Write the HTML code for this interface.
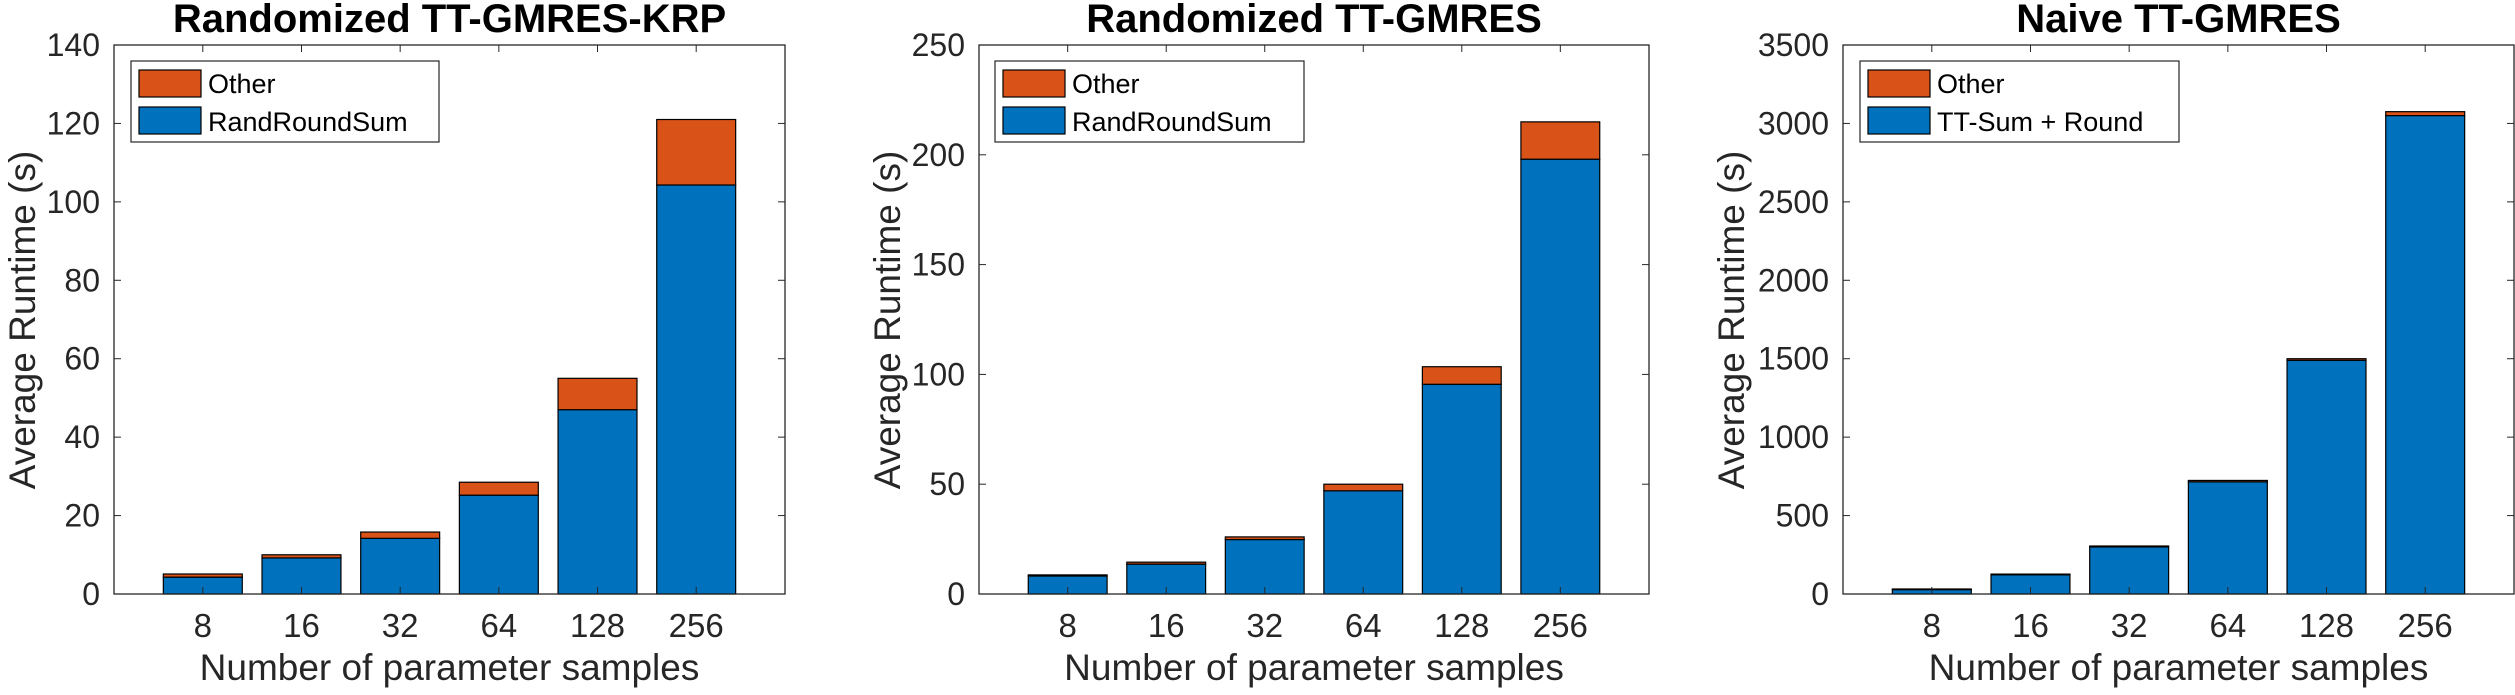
<!DOCTYPE html>
<html><head><meta charset="utf-8"><style>
body{margin:0;background:#fff;}
svg text{font-family:"Liberation Sans",Arial,sans-serif;fill:#262626;}
</style></head><body>
<svg id="c" width="2515" height="690" xmlns="http://www.w3.org/2000/svg"></svg>
<script>
const categories = ["8","16","32","64","128","256"];
const p1Blue = [4.3, 9.2, 14.2, 25.2, 47.0, 104.3];
const p1Total = [5.1, 10.0, 15.8, 28.5, 55.0, 121.0];
const p1Ticks = [0,20,40,60,80,100,120,140];
const p2Blue = [8.2, 13.6, 24.8, 47.0, 95.5, 198.0];
const p2Total = [8.7, 14.5, 26.0, 50.0, 103.5, 215.0];
const p2Ticks = [0,50,100,150,200,250];
const p3Blue = [28, 122, 300, 715, 1490, 3050];
const p3Total = [32, 127, 306, 724, 1500, 3075];
const p3Ticks = [0,500,1000,1500,2000,2500,3000,3500];

const svgEl = document.getElementById('c');
const NS = "http://www.w3.org/2000/svg";
function mk(tag, attrs, parent){const e=document.createElementNS(NS,tag);for(const k in attrs)e.setAttribute(k,attrs[k]);(parent||svgEl).appendChild(e);return e;}

const panels = [
 {title:"Randomized TT-GMRES-KRP", left:114, right:785, blue:p1Blue, total:p1Total, ticks:p1Ticks, ymax:140, ylabX:22, leg:[131,61,308,81], legLab:"RandRoundSum"},
 {title:"Randomized TT-GMRES", left:979, right:1649, blue:p2Blue, total:p2Total, ticks:p2Ticks, ymax:250, ylabX:887, leg:[995,61,309,81], legLab:"RandRoundSum"},
 {title:"Naive TT-GMRES", left:1843, right:2514, blue:p3Blue, total:p3Total, ticks:p3Ticks, ymax:3500, ylabX:1731, leg:[1860,61,319,81], legLab:"TT-Sum + Round"}
];
const plotTop=45, plotBottom=594;
panels.forEach((p,pi)=>{
  const g = mk('g',{});
  
  
  const xs = i => p.left + (i+1-0.1)/6.8*(p.right-p.left);
  const ys = v => plotBottom - v/p.ymax*(plotBottom-plotTop);
  const bw = 0.8/6.8*(p.right-p.left);
  categories.forEach((c,i)=>{
    const b = mk('rect',{x:xs(i)-bw/2,y:ys(p.blue[i]),width:bw,height:ys(0)-ys(p.blue[i]),fill:'#0072bd',stroke:'#000','stroke-width':1.2},g);
    
    
    const o = mk('rect',{x:xs(i)-bw/2,y:ys(p.total[i]),width:bw,height:ys(p.blue[i])-ys(p.total[i]),fill:'#d95319',stroke:'#000','stroke-width':1.2},g);
    
    
    const t = mk('text',{x:xs(i),y:637,'font-size':33,'text-anchor':'middle'},g);
    t.textContent=c;
    
    
    mk('line',{x1:xs(i),x2:xs(i),y1:plotBottom,y2:plotBottom-7,stroke:'#262626','stroke-width':1},g);
    mk('line',{x1:xs(i),x2:xs(i),y1:plotTop,y2:plotTop+7,stroke:'#262626','stroke-width':1},g);
  });
  p.ticks.forEach(v=>{
    const t = mk('text',{x:p.left-14,y:ys(v)+11,'font-size':32,'text-anchor':'end'},g);
    t.textContent=v;
    
    
    mk('line',{x1:p.left,x2:p.left+7,y1:ys(v),y2:ys(v),stroke:'#262626','stroke-width':1},g);
    mk('line',{x1:p.right,x2:p.right-7,y1:ys(v),y2:ys(v),stroke:'#262626','stroke-width':1},g);
  });
  const box = mk('rect',{x:p.left,y:plotTop,width:p.right-p.left,height:plotBottom-plotTop,fill:'none',stroke:'#262626','stroke-width':1.3},g);
  
  
  const tt = mk('text',{x:(p.left+p.right)/2,y:32,'font-size':40,'font-weight':'bold','text-anchor':'middle',style:'fill:#000'},g);
  tt.textContent=p.title;
  
  
  const xl = mk('text',{x:(p.left+p.right)/2,y:680,'font-size':37,'text-anchor':'middle'},g);
  xl.textContent="Number of parameter samples";
  
  
  const yl = mk('text',{x:0,y:0,'font-size':37,'text-anchor':'middle',transform:`translate(${p.ylabX+13},320) rotate(-90)`},g);
  yl.textContent="Average Runtime (s)";
  
  
  const [lx,ly,lw,lh]=p.leg;
  const lg = mk('g',{},g);
  
  
  mk('rect',{x:lx,y:ly,width:lw,height:lh,fill:'#fff',stroke:'#262626','stroke-width':1.2},lg);
  mk('rect',{x:lx+8,y:ly+9,width:62,height:27,fill:'#d95319',stroke:'#000','stroke-width':1.2},lg);
  mk('rect',{x:lx+8,y:ly+46,width:62,height:27,fill:'#0072bd',stroke:'#000','stroke-width':1.2},lg);
  const e1 = mk('text',{x:lx+77,y:ly+32,'font-size':27,style:'fill:#000'},lg);
  e1.textContent="Other";
  
  
  const e2 = mk('text',{x:lx+77,y:ly+70,'font-size':27,style:'fill:#000'},lg);
  e2.textContent=p.legLab;
  
  
});
</script>
</body></html>
